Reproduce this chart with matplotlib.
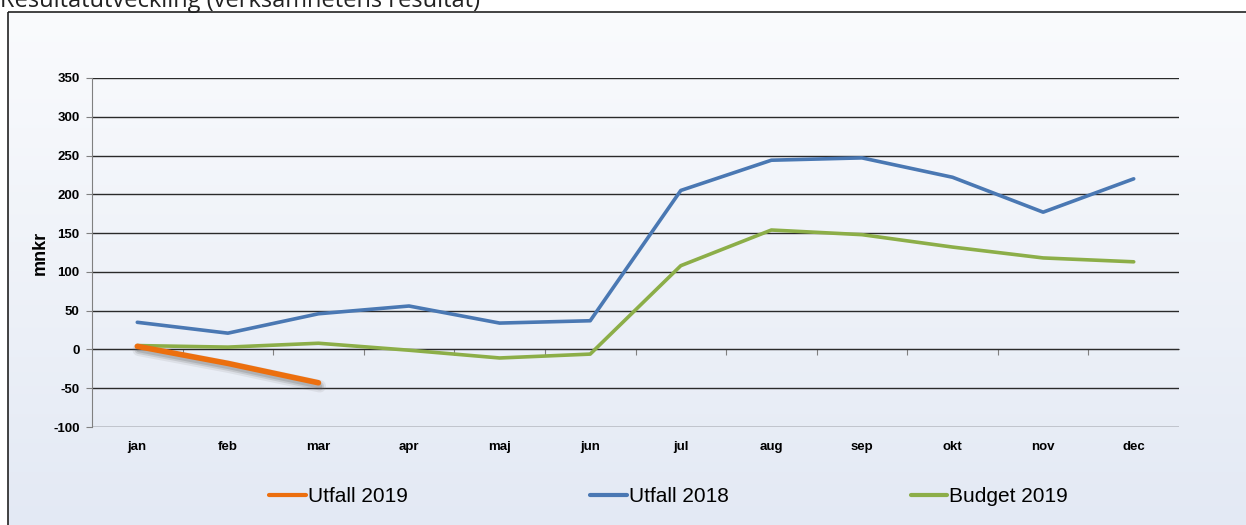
import numpy as np
import matplotlib
matplotlib.use("Agg")
import matplotlib.pyplot as plt
from matplotlib import patheffects as pe
from matplotlib.patches import Rectangle

plt.rcParams["axes.unicode_minus"] = False

months = ["jan", "feb", "mar", "apr", "maj", "jun", "jul", "aug", "sep", "okt", "nov", "dec"]
utfall_2019 = [4, -18, -43]
utfall_2018 = [35, 21, 46, 56, 34, 37, 205, 244, 247, 222, 177, 220]
budget_2019 = [5, 3, 8, -1, -11, -6, 108, 154, 148, 132, 118, 113]
yticks = list(range(-100, 351, 50))

W, H = 1246, 525
fig = plt.figure(figsize=(W / 100, H / 100), dpi=100, facecolor="white")

# background panel with soft vertical gradient, framed
bg = fig.add_axes([0, 0, 1, 1], zorder=0)
bg.set_xlim(0, W); bg.set_ylim(H, 0); bg.set_axis_off()
grad = np.linspace(0, 1, 256)[:, None]
cmap = matplotlib.colors.LinearSegmentedColormap.from_list("g", ["#fafbfd", "#e3e9f4"])
bg.imshow(grad, cmap=cmap, extent=(8, W + 5, H + 5, 12), aspect="auto")
bg.add_patch(Rectangle((8, 12), W, H, fill=False, ec="#222222", lw=1.2))
bg.text(0, 7, "Resultatutveckling (verksamhetens resultat)", family="Open Sans",
        fontsize=17, color="#222222", va="baseline", ha="left")

ax = fig.add_axes([92 / W, 1 - 427 / H, (1179 - 92) / W, (427 - 78) / H], zorder=1)
ax.patch.set_alpha(0)
x = np.arange(len(months))

ax.plot(x, utfall_2018, color="#4a78b3", lw=2.6, label="Utfall 2018", zorder=3,
        solid_capstyle="round")
ax.plot(x, budget_2019, color="#8cae48", lw=2.6, label="Budget 2019", zorder=3,
        solid_capstyle="round")
shadow = [pe.SimpleLineShadow(offset=(1, -2.5), shadow_color="#777777", alpha=0.12, linewidth=9),
          pe.SimpleLineShadow(offset=(1, -2.5), shadow_color="#666666", alpha=0.18, linewidth=6),
          pe.SimpleLineShadow(offset=(1, -2.5), shadow_color="#555555", alpha=0.2, linewidth=3.5),
          pe.Normal()]
ax.plot(x[:len(utfall_2019)], utfall_2019, color="#ec6f0e", lw=4, label="Utfall 2019",
        zorder=4, solid_capstyle="round", path_effects=shadow)

ax.set_xlim(-0.5, len(months) - 0.5)
ax.set_ylim(-100, 350)
ax.set_yticks(yticks)
ax.yaxis.grid(True, color="#2a2a2a", lw=1)
ax.set_axisbelow(True)
for s in ["top", "right"]:
    ax.spines[s].set_visible(False)
ax.spines["left"].set_color("#808080")
ax.spines["bottom"].set_visible(False)
ax.tick_params(axis="y", length=4, color="#808080", labelsize=9.5, pad=5)
ax.set_xticks(x)
ax.set_xticklabels(months)
ax.tick_params(axis="x", length=0, labelsize=9.5, pad=10)
for lab in ax.get_xticklabels() + ax.get_yticklabels():
    lab.set_fontweight("bold")
    lab.set_family("Liberation Sans")

# category axis crossing at zero
sec = ax.secondary_xaxis(100 / 450)
sec.set_xticks(np.arange(0.5, len(months) - 0.5, 1))
sec.set_xticklabels([])
sec.tick_params(length=4, color="#808080", direction="out")
sec.spines["bottom"].set_color("#808080")

ax.set_ylabel("mnkr", fontsize=13, fontweight="bold", family="Liberation Sans", labelpad=3)

handles, labels = ax.get_legend_handles_labels()
order = [2, 0, 1]
fig.legend([handles[i] for i in order], [labels[i] for i in order],
           loc="center left", bbox_to_anchor=(259 / W, 1 - 497 / H), ncol=3, frameon=False,
           prop={"family": ["Liberation Sans Narrow", "Liberation Sans"], "size": 15},
           handlelength=1.75, handletextpad=0.1, columnspacing=8.75, borderpad=0)
for lh in fig.legends[0].legend_handles:
    lh.set_path_effects([])
    lh.set_linewidth(3)

fig.savefig("out.png", dpi=100)
